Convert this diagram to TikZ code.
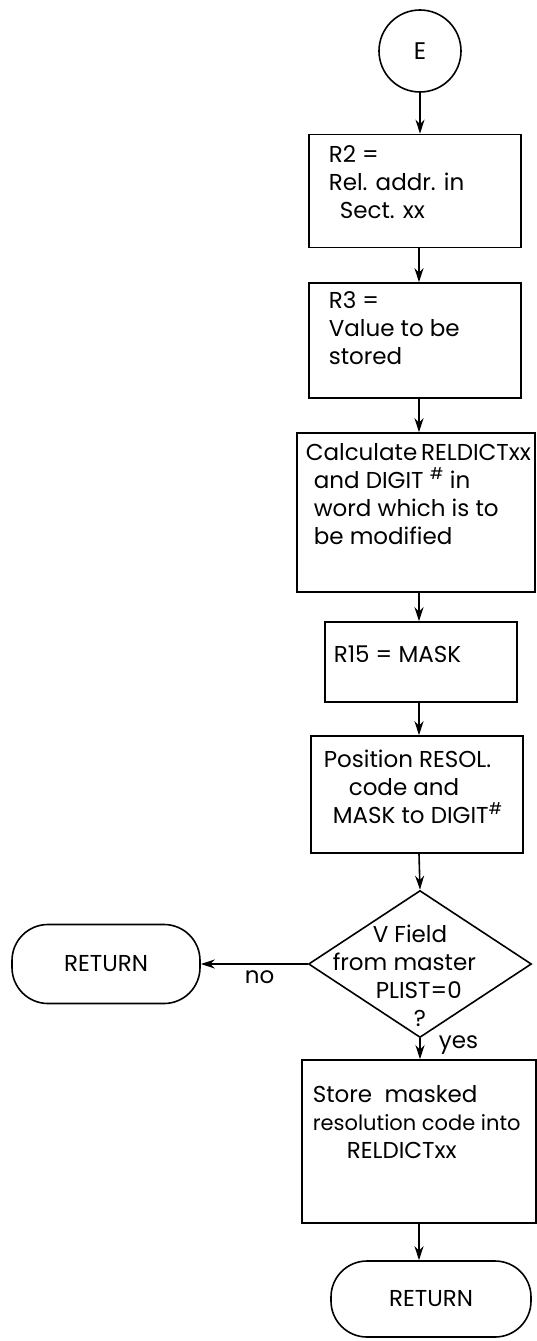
\documentclass[tikz,border=0pt]{standalone}
\usepackage{fontspec}
\setmainfont{Poppins}
\usetikzlibrary{shapes.geometric,arrows.meta}
\begin{document}
\begin{tikzpicture}[x=1pt,y=-1pt,line width=1.6pt,
  box/.style={draw, rectangle, inner sep=0pt},
  term/.style={draw, rectangle, rounded corners=36pt, inner sep=0pt, font=\fontsize{23}{28}\selectfont},
  txt/.style={anchor=north west, align=left, inner sep=0pt, font=\fontsize{23}{28}\selectfont},
  lbl/.style={inner sep=0pt, font=\fontsize{23}{28}\selectfont},
  arr/.style={-{Stealth[length=14pt,width=9pt]}}]
\useasboundingbox (0,0) rectangle (537,1341);
\coordinate (ax) at (419,0);
% nodes
\node[draw, circle, minimum size=82pt, inner sep=0pt, font=\fontsize{24}{28}\selectfont] (E) at (420,51) {E};
\node[box, minimum width=212pt, minimum height=113pt] (b1) at (415,191) {};
\node[txt] (t1) at (328,145) {R2 =\\Rel. addr. in\\\hspace{11pt}Sect. xx};
\node[box, minimum width=212pt, minimum height=115pt] (b2) at (415,340.5) {};
\node[txt] (t2) at (328,291) {R3 =\\Value to be\\stored};
\node[box, minimum width=238pt, minimum height=159pt] (b3) at (416,512.5) {};
\node[txt] (t3) at (305,443) {Calculate\,RELDICTxx\\\hspace{8pt}and DIGIT $^{\#}$ in\\\hspace{8pt}word which is to\\\hspace{8pt}be modified};
\node[box, minimum width=192pt, minimum height=80pt] (b4) at (421,662) {};
\node[txt] (t4) at (333,645) {R15 = MASK};
\node[box, minimum width=212pt, minimum height=117pt] (b5) at (417,794.5) {};
\node[txt] (t5) at (323,749) {Position RESOL.\\\hspace{25pt}code and\\\hspace{9pt}MASK to DIGIT$^{\#}$};
\node[draw, diamond, minimum width=223pt, minimum height=147pt, inner sep=0pt] (d) at (420,964) {};
\node[txt] (dt) at (332,924) {\hspace{40pt}V Field\\from master\\\hspace{43pt}PLIST=0\\\hspace{81pt}?};
\node[term, minimum width=188pt, minimum height=79pt] (rl) at (106,964) {RETURN};
\node[box, minimum width=234pt, minimum height=163pt] (b6) at (419,1141.5) {};
\node[txt] (t6) at (312,1085) {Store\ \ masked\\{\fontsize{21}{28}\selectfont resolution code into}\\\hspace{34pt}RELDICTxx};
\node[term, minimum width=200pt, minimum height=76pt] (rb) at (431,1299) {RETURN};
% connectors
\draw[arr] (E.south) -- (E.south |- b1.north);
\draw[arr] (b1.south -| ax) -- (b2.north -| ax);
\draw[arr] (b2.south -| ax) -- (b3.north -| ax);
\draw[arr] (b3.south -| ax) -- (b4.north -| ax);
\draw[arr] (b4.south -| ax) -- (b5.north -| ax);
\draw[arr] (b5.south -| ax) -- (d.north);
\draw[arr] (d.west) -- (rl.east) node[lbl, pos=0.45, below=6pt] (no) {no};
\draw[arr] (d.south) -- (d.south |- b6.north) node[lbl, pos=0.3, anchor=west, xshift=18pt] (yes) {yes};
\draw[arr] (b6.south -| ax) -- (rb.north -| ax);
\end{tikzpicture}
\end{document}
